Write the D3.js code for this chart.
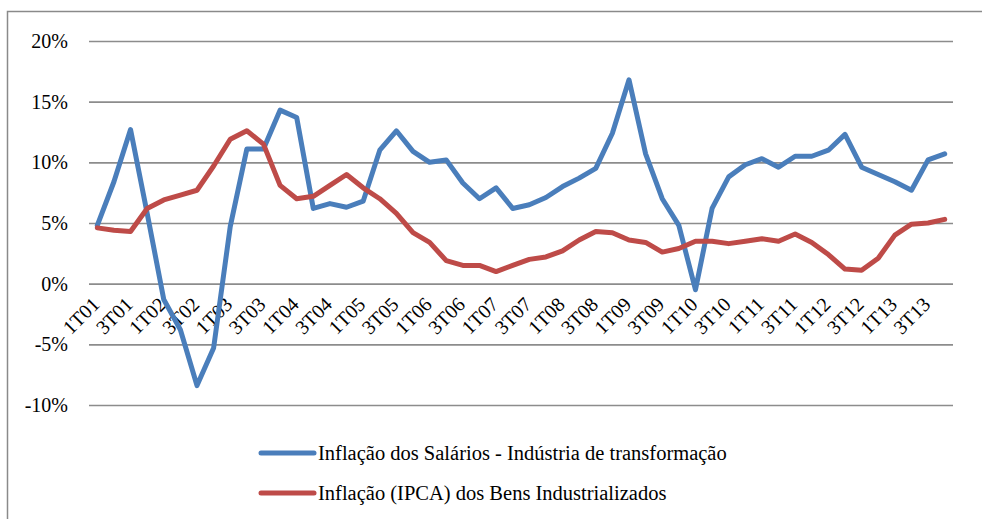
<!DOCTYPE html>
<html>
<head>
<meta charset="utf-8">
<script src="https://cdn.jsdelivr.net/npm/d3@7"></script>
<style>
  html, body { margin: 0; padding: 0; background: #fff; }
  svg { display: block; }
</style>
</head>
<body>
<svg id="chart" width="982" height="519"></svg>
<script>
const categories = [
  "1T01","2T01","3T01","4T01","1T02","2T02","3T02","4T02","1T03","2T03","3T03","4T03",
  "1T04","2T04","3T04","4T04","1T05","2T05","3T05","4T05","1T06","2T06","3T06","4T06",
  "1T07","2T07","3T07","4T07","1T08","2T08","3T08","4T08","1T09","2T09","3T09","4T09",
  "1T10","2T10","3T10","4T10","1T11","2T11","3T11","4T11","1T12","2T12","3T12","4T12",
  "1T13","2T13","3T13","4T13"
];
const salarios = [
  4.8, 8.4, 12.7, 5.8, -1.3, -3.8, -8.4, -5.3, 4.7, 11.1, 11.1, 14.3,
  13.7, 6.2, 6.6, 6.3, 6.8, 11.0, 12.6, 10.9, 10.0, 10.2, 8.3, 7.0,
  7.9, 6.2, 6.5, 7.1, 8.0, 8.7, 9.5, 12.4, 16.8, 10.7, 7.0, 4.8,
  -0.5, 6.2, 8.8, 9.8, 10.3, 9.6, 10.5, 10.5, 11.0, 12.3, 9.6, 9.0,
  8.4, 7.7, 10.2, 10.7
];
const ipca = [
  4.6, 4.4, 4.3, 6.2, 6.9, 7.3, 7.7, 9.7, 11.9, 12.6, 11.5, 8.1,
  7.0, 7.2, 8.1, 9.0, 7.9, 7.0, 5.8, 4.2, 3.4, 1.9, 1.5, 1.5,
  1.0, 1.5, 2.0, 2.2, 2.7, 3.6, 4.3, 4.2, 3.6, 3.4, 2.6, 2.9,
  3.5, 3.5, 3.3, 3.5, 3.7, 3.5, 4.1, 3.4, 2.4, 1.2, 1.1, 2.1,
  4.0, 4.9, 5.0, 5.3
];
const yTicks = [-10, -5, 0, 5, 10, 15, 20];
const seriesNames = [
  "Inflação dos Salários - Indústria de transformação",
  "Inflação (IPCA) dos Bens Industrializados"
];
const seriesColors = ["#4A7EBB", "#BE4B48"];
const FONT = '"Liberation Serif"';

const svg = d3.select("#chart");

// outer chart border (cropped on right and bottom)
svg.append("rect")
  .attr("x", 7.5).attr("y", 11.5)
  .attr("width", 1000).attr("height", 1000)
  .attr("fill", "none").attr("stroke", "#8a8a8a").attr("stroke-width", 1.5);

const plotL = 89, plotR = 953;
const x = d3.scalePoint().domain(categories).range([plotL, plotR]).padding(0.5);
const y = d3.scaleLinear().domain([-10, 20]).range([405, 41]);

// y axis + gridlines
const yAxis = d3.axisLeft(y)
  .tickValues(yTicks)
  .tickSizeInner(-(plotR - plotL))
  .tickSizeOuter(0)
  .tickPadding(21)
  .tickFormat(d => d + "%");
const gy = svg.append("g").attr("transform", `translate(${plotL},0)`).call(yAxis);
gy.attr("font-family", null).attr("font-size", null);
gy.select(".domain").remove();
gy.selectAll(".tick line").attr("stroke", "#8c8c8c").attr("stroke-width", 1.6);
gy.selectAll(".tick text")
  .style("font-family", FONT)
  .style("font-size", "20px")
  .attr("fill", "#000");

// x axis labels (every second category)
const xAxis = d3.axisBottom(x)
  .tickValues(categories.filter((d, i) => i % 2 === 0))
  .tickSize(0)
  .tickPadding(0);
const gx = svg.append("g").attr("transform", `translate(0,${y(0)})`).call(xAxis);
gx.attr("font-family", null).attr("font-size", null);
gx.select(".domain").remove();
gx.selectAll(".tick text")
  .style("font-family", FONT)
  .style("font-size", "20px")
  .attr("fill", "#000")
  .attr("text-anchor", "end")
  .attr("y", 0)
  .attr("dy", "0.35em")
  .attr("transform", "translate(-2,17) rotate(-45)");

// lines
const line = d3.line()
  .x((d, i) => x(categories[i]))
  .y(d => y(d));

[salarios, ipca].forEach((s, k) => {
  svg.append("path")
    .datum(s)
    .attr("d", line)
    .attr("fill", "none")
    .attr("stroke", seriesColors[k])
    .attr("stroke-width", 5)
    .attr("stroke-linejoin", "round")
    .attr("stroke-linecap", "round");
});

// legend
const legY = [453, 493];
seriesNames.forEach((name, k) => {
  const g = svg.append("g").attr("transform", `translate(0,${legY[k]})`);
  g.append("line")
    .attr("x1", 261).attr("x2", 314)
    .attr("y1", 0).attr("y2", 0)
    .attr("stroke", seriesColors[k])
    .attr("stroke-width", 5)
    .attr("stroke-linecap", "round");
  g.append("text")
    .attr("x", 318).attr("y", 0).attr("dy", "0.35em")
    .style("font-family", FONT)
    .style("font-size", "20.5px")
    .attr("fill", "#000")
    .text(name);
});
</script>
</body>
</html>
